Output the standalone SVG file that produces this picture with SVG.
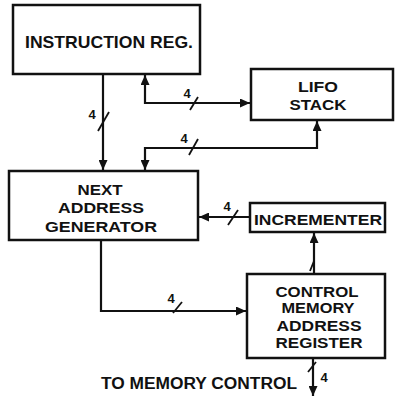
<svg xmlns="http://www.w3.org/2000/svg" width="402" height="406" viewBox="0 0 402 406">
<defs>
<style>
.box{fill:#fff;stroke:#111;stroke-width:2.5}
.t{font-family:"Liberation Sans",Arial,sans-serif;font-weight:bold;font-size:15px;fill:#111;text-anchor:middle}
.n{font-family:"Liberation Sans",Arial,sans-serif;font-weight:bold;font-size:13px;fill:#111;text-anchor:middle}
.c{fill:none;stroke:#111;stroke-width:2.2}
.s{stroke:#111;stroke-width:1.8}
</style>
<marker id="ah" markerUnits="userSpaceOnUse" markerWidth="11" markerHeight="9" refX="10" refY="4.5" orient="auto-start-reverse">
<path d="M0,0 L10,4.5 L0,9 z" fill="#111"/>
</marker>
</defs>
<rect width="402" height="406" fill="#fff"/>
<g id="connectors">
<path class="c" d="M103,74 V170" marker-end="url(#ah)"/>
<path class="c" d="M145,75 V103 H250" marker-start="url(#ah)" marker-end="url(#ah)"/>
<path class="c" d="M317,121 V148 H145 V170" marker-start="url(#ah)" marker-end="url(#ah)"/>
<path class="c" d="M250,217 H199" marker-end="url(#ah)"/>
<path class="c" d="M101,240 V311 H246" marker-end="url(#ah)"/>
<path class="c" d="M314,273 V233" marker-end="url(#ah)"/>
<path class="c" d="M313,358 V396" marker-end="url(#ah)"/>
<line class="s" x1="98" y1="131" x2="109" y2="112"/>
<line class="s" x1="190" y1="110" x2="198" y2="97"/>
<line class="s" x1="189" y1="155" x2="198" y2="139"/>
<line class="s" x1="228" y1="225" x2="238" y2="210"/>
<line class="s" x1="173" y1="313" x2="182" y2="302"/>
<line class="s" x1="310" y1="271" x2="314" y2="261"/>
<line class="s" x1="308" y1="372" x2="316" y2="362"/>
<text class="n" x="92" y="119">4</text>
<text class="n" x="187" y="98">4</text>
<text class="n" x="184" y="143">4</text>
<text class="n" x="227" y="211">4</text>
<text class="n" x="171" y="303">4</text>
<text class="n" x="324" y="382">4</text>
</g>
<g id="instruction-reg">
<rect class="box" x="13" y="5" width="187" height="69"/>
<text class="t" x="109" y="48" textLength="168" lengthAdjust="spacingAndGlyphs" style="font-size:17px">INSTRUCTION REG.</text>
</g>
<g id="lifo-stack">
<rect class="box" x="251" y="69" width="142" height="51"/>
<text class="t" x="318" y="92" textLength="40" lengthAdjust="spacingAndGlyphs">LIFO</text>
<text class="t" x="318" y="110" textLength="57" lengthAdjust="spacingAndGlyphs">STACK</text>
</g>
<g id="next-address-generator">
<rect class="box" x="9" y="171" width="189" height="69"/>
<text class="t" x="100" y="195" textLength="45" lengthAdjust="spacingAndGlyphs">NEXT</text>
<text class="t" x="101" y="213" textLength="86" lengthAdjust="spacingAndGlyphs">ADDRESS</text>
<text class="t" x="101" y="232" textLength="112" lengthAdjust="spacingAndGlyphs">GENERATOR</text>
</g>
<g id="incrementer">
<rect class="box" x="250" y="203" width="135" height="29"/>
<text class="t" x="318" y="225" textLength="128" lengthAdjust="spacingAndGlyphs">INCREMENTER</text>
</g>
<g id="control-memory-address-register">
<rect class="box" x="247" y="274" width="138" height="84"/>
<text class="t" x="317" y="297" textLength="83" lengthAdjust="spacingAndGlyphs">CONTROL</text>
<text class="t" x="318" y="313" textLength="73" lengthAdjust="spacingAndGlyphs">MEMORY</text>
<text class="t" x="319" y="331" textLength="85" lengthAdjust="spacingAndGlyphs">ADDRESS</text>
<text class="t" x="319" y="348" textLength="87" lengthAdjust="spacingAndGlyphs">REGISTER</text>
</g>
<g id="memory-control-label">
<text class="t" x="199" y="389" textLength="196" lengthAdjust="spacingAndGlyphs" style="font-size:16px">TO MEMORY CONTROL</text>
</g>
</svg>
